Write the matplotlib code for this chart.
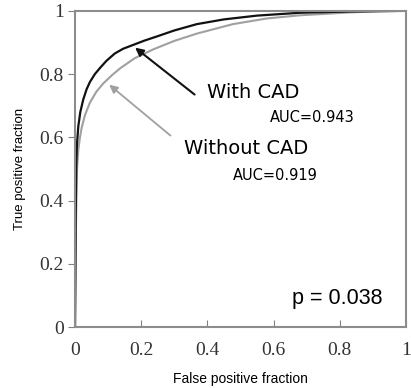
import numpy as np
import matplotlib.pyplot as plt

# ROC points
fpr_cad = [0, 0.001, 0.002, 0.004, 0.006, 0.010, 0.016, 0.025, 0.035, 0.045, 0.060, 0.076, 0.095,
           0.12, 0.145, 0.175, 0.21, 0.25, 0.30, 0.368, 0.45, 0.55, 0.68, 0.83, 1.0]
tpr_cad = [0, 0.15, 0.35, 0.52, 0.58, 0.635, 0.68, 0.72, 0.752, 0.775, 0.80, 0.82, 0.842,
           0.865, 0.880, 0.892, 0.906, 0.920, 0.938, 0.958, 0.973, 0.985, 0.994, 0.998, 1.0]

fpr_nocad = [0, 0.001, 0.003, 0.006, 0.010, 0.015, 0.020, 0.030, 0.045, 0.065, 0.085, 0.11, 0.136,
             0.18, 0.236, 0.30, 0.368, 0.477, 0.58, 0.68, 0.83, 0.92, 1.0]
tpr_nocad = [0, 0.12, 0.33, 0.50, 0.56, 0.60, 0.63, 0.67, 0.71, 0.745, 0.770, 0.795, 0.818,
             0.850, 0.878, 0.905, 0.928, 0.958, 0.976, 0.986, 0.995, 0.999, 1.0]

ticks = [0, 0.2, 0.4, 0.6, 0.8, 1]
tick_labels = ["0", "0.2", "0.4", "0.6", "0.8", "1"]

fig = plt.figure(figsize=(4.11, 3.88), dpi=100)
ax = fig.add_axes([0.1825, 0.157, 0.805, 0.815])

ax.plot(fpr_nocad, tpr_nocad, color="#a0a0a0", lw=1.5)
ax.plot(fpr_cad, tpr_cad, color="#111111", lw=1.6)

ax.set_xlim(0, 1)
ax.set_ylim(0, 1)
ax.set_xticks(ticks)
ax.set_yticks(ticks)
ax.set_xticklabels(tick_labels, family="Liberation Serif", fontsize=14, color="#333333")
ax.set_yticklabels(tick_labels, family="Liberation Serif", fontsize=14, color="#333333")
ax.tick_params(axis="x", direction="in", length=5, color="#808080", pad=11)
ax.tick_params(axis="y", direction="out", length=5, color="#808080", pad=3)
for s in ax.spines.values():
    s.set_color("#8c8c8c")
    s.set_linewidth(1.5)

ax.set_xlabel("False positive fraction", family="Liberation Sans", fontsize=10, labelpad=9)
ax.set_ylabel("True positive fraction", family="Liberation Sans", fontsize=9.5, labelpad=10)

# arrows + labels
ax.annotate("", xy=(0.175, 0.889), xytext=(0.368, 0.73),
            arrowprops=dict(arrowstyle="-|>", color="#111111", lw=1.5, mutation_scale=12))
ax.annotate("", xy=(0.097, 0.772), xytext=(0.295, 0.60),
            arrowprops=dict(arrowstyle="-|>", color="#a0a0a0", lw=1.3, mutation_scale=12))

ax.text(0.398, 0.742, "With CAD", family="DejaVu Sans", fontsize=14, va="center")
ax.text(0.59, 0.663, "AUC=0.943", family="DejaVu Sans", fontsize=10.5, va="center")
ax.text(0.33, 0.565, "Without CAD", family="DejaVu Sans", fontsize=14, va="center")
ax.text(0.477, 0.48, "AUC=0.919", family="DejaVu Sans", fontsize=10.5, va="center")
ax.text(0.655, 0.09, "p = 0.038", family="Liberation Sans", fontsize=15.5, va="center")

fig.savefig("out.png", dpi=100)
